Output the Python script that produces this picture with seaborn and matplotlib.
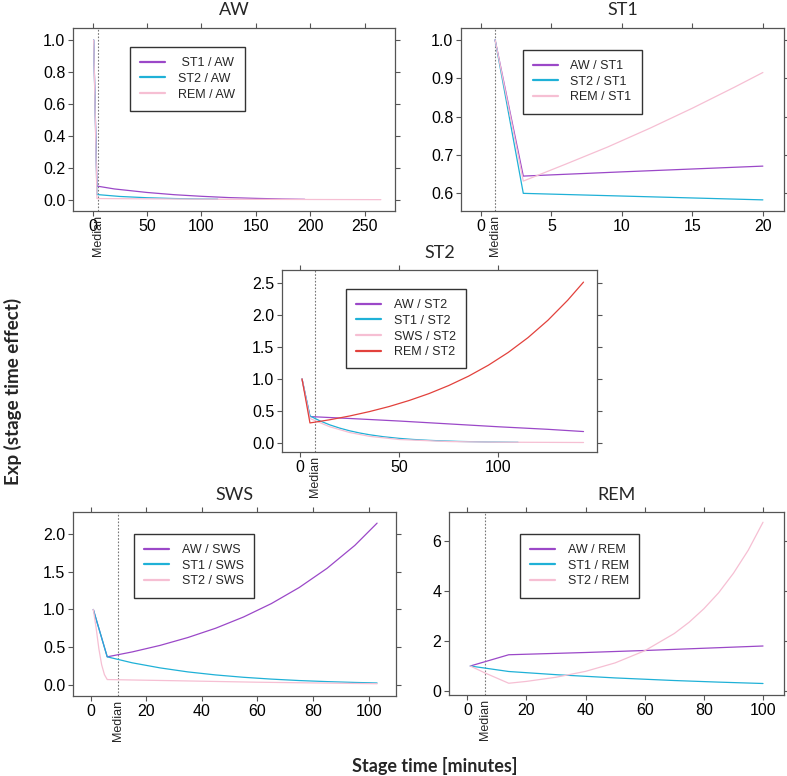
import matplotlib
matplotlib.use("Agg")
import matplotlib.pyplot as plt
from matplotlib.lines import Line2D
import numpy as np
import pandas as pd
import seaborn as sns

# colours of the four comparison stages
PURPLE = "#9b48c8"
CYAN = "#1fb1d7"
PINK = "#f6bfd3"
RED = "#e2413c"

# --- AW panel ---
aw_st1_x = [1, 4, 20, 50, 75, 100, 125, 150, 175, 195]
aw_st1_y = [1.0, 0.086, 0.068, 0.046, 0.032, 0.022, 0.014, 0.009, 0.005, 0.003]
aw_st2_x = [1, 4, 25, 50, 75, 100, 115]
aw_st2_y = [1.0, 0.033, 0.021, 0.013, 0.008, 0.005, 0.004]
aw_rem_x = [1, 4, 50, 100, 150, 200, 265]
aw_rem_y = [1.0, 0.008, 0.006, 0.004, 0.003, 0.002, 0.001]

# --- ST1 panel ---
st1_aw_x = [1, 3, 10, 20]
st1_aw_y = [1.0, 0.645, 0.656, 0.671]
st1_st2_x = [1, 3, 10, 20]
st1_st2_y = [1.0, 0.600, 0.593, 0.583]
st1_rem_x = [1, 3, 6, 9, 12, 15, 18, 20]
st1_rem_y = [1.0, 0.632, 0.676, 0.721, 0.770, 0.822, 0.877, 0.915]

# --- ST2 panel ---
st2_aw_x = [1, 5, 25, 50, 75, 100, 125, 143]
st2_aw_y = [1.0, 0.41, 0.38, 0.34, 0.295, 0.25, 0.21, 0.175]
st2_st1_x = [1, 5, 10, 15, 20, 25, 30, 35, 42, 50, 57, 65, 72, 80, 95, 110]
st2_st1_y = [1.0, 0.42, 0.343, 0.28, 0.229, 0.187, 0.153, 0.125, 0.094, 0.068,
             0.051, 0.037, 0.028, 0.02, 0.011, 0.006]
st2_sws_x = [1, 5, 15, 25, 35, 50, 75, 100, 143]
st2_sws_y = [1.0, 0.38, 0.25, 0.16, 0.10, 0.05, 0.018, 0.008, 0.003]
st2_rem_x = [1, 5, 15, 25, 35, 45, 55, 65, 75, 85, 95, 105, 115, 125, 135, 143]
st2_rem_y = [1.0, 0.31, 0.36, 0.419, 0.488, 0.568, 0.662, 0.77, 0.897, 1.044,
             1.216, 1.416, 1.649, 1.92, 2.235, 2.52]

# --- SWS panel ---
sws_aw_x = [1, 6, 15, 25, 35, 45, 55, 65, 75, 85, 95, 103]
sws_aw_y = [1.0, 0.375, 0.44, 0.526, 0.63, 0.753, 0.901, 1.078, 1.29, 1.543,
            1.846, 2.14]
sws_st1_x = [1, 6, 15, 25, 35, 45, 55, 65, 75, 85, 95, 103]
sws_st1_y = [1.0, 0.375, 0.296, 0.229, 0.176, 0.136, 0.105, 0.081, 0.062, 0.048,
             0.037, 0.03]
sws_st2_x = [1, 2, 3, 4, 5, 6, 30, 60, 103]
sws_st2_y = [1.0, 0.76, 0.48, 0.27, 0.14, 0.075, 0.06, 0.04, 0.02]

# --- REM panel ---
rem_aw_x = [1, 14, 40, 60, 80, 100]
rem_aw_y = [1.0, 1.45, 1.54, 1.62, 1.71, 1.80]
rem_st1_x = [1, 14, 30, 50, 70, 85, 100]
rem_st1_y = [1.0, 0.78, 0.653, 0.523, 0.419, 0.355, 0.30]
rem_st2_x = [1, 6, 14, 20, 30, 40, 50, 60, 70, 75, 80, 85, 90, 95, 100]
rem_st2_y = [1.0, 0.72, 0.31, 0.384, 0.55, 0.786, 1.125, 1.61, 2.30, 2.75, 3.29,
             3.93, 4.71, 5.63, 6.75]

# panel name, axes box in pixels (left, top, right, bottom), limits, ticks, median, curves
panels = [
    ("AW", (73, 28, 395, 211), (-18, 278), (-0.07, 1.075),
     [0, 50, 100, 150, 200, 250], [0.0, 0.2, 0.4, 0.6, 0.8, 1.0], "{:.1f}", 5,
     [(" ST1 / AW", aw_st1_x, aw_st1_y, PURPLE),
      ("ST2 / AW", aw_st2_x, aw_st2_y, CYAN),
      ("REM / AW", aw_rem_x, aw_rem_y, PINK)], (130, 47)),
    ("ST1", (461, 28, 784, 211), (-1.42, 21.5), (0.554, 1.031),
     [0, 5, 10, 15, 20], [0.6, 0.7, 0.8, 0.9, 1.0], "{:.1f}", 1,
     [("AW / ST1", st1_aw_x, st1_aw_y, PURPLE),
      ("ST2 / ST1", st1_st2_x, st1_st2_y, CYAN),
      ("REM / ST1", st1_rem_x, st1_rem_y, PINK)], (523, 50)),
    ("ST2", (282, 270, 597, 452), (-9.1, 149.8), (-0.146, 2.71),
     [0, 50, 100], [0.0, 0.5, 1.0, 1.5, 2.0, 2.5], "{:.1f}", 7.5,
     [("AW / ST2", st2_aw_x, st2_aw_y, PURPLE),
      ("ST1 / ST2", st2_st1_x, st2_st1_y, CYAN),
      ("SWS / ST2", st2_sws_x, st2_sws_y, PINK),
      ("REM / ST2", st2_rem_x, st2_rem_y, RED)], (346, 289)),
    ("SWS", (73, 512, 396, 696), (-6.3, 109.8), (-0.142, 2.287),
     [0, 20, 40, 60, 80, 100], [0.0, 0.5, 1.0, 1.5, 2.0], "{:.1f}", 10,
     [("AW / SWS", sws_aw_x, sws_aw_y, PURPLE),
      ("ST1 / SWS", sws_st1_x, sws_st1_y, CYAN),
      ("ST2 / SWS", sws_st2_x, sws_st2_y, PINK)], (134, 534)),
    ("REM", (449, 512, 784, 695), (-6.2, 107.1), (-0.16, 7.16),
     [0, 20, 40, 60, 80, 100], [0, 2, 4, 6], "{:.0f}", 6,
     [("AW / REM", rem_aw_x, rem_aw_y, PURPLE),
      ("ST1 / REM", rem_st1_x, rem_st1_y, CYAN),
      ("ST2 / REM", rem_st2_x, rem_st2_y, PINK)], (520, 534)),
]

sns.set_style("ticks")
plt.rcParams["font.family"] = ["Liberation Sans", "DejaVu Sans"]
plt.rcParams["axes.edgecolor"] = "#555555"
plt.rcParams["xtick.color"] = "#555555"
plt.rcParams["ytick.color"] = "#555555"
plt.rcParams["xtick.labelcolor"] = "black"
plt.rcParams["ytick.labelcolor"] = "black"

W, H = 787, 776
fig = plt.figure(figsize=(W / 100, H / 100), dpi=100)

for name, box, xlim, ylim, xt, yt, fmt, med, curves, legpos in panels:
    l, t, r, b = box
    ax = fig.add_axes([l / W, 1 - b / H, (r - l) / W, (b - t) / H])
    rows = []
    for lab, xs, ys, col in curves:
        rows.append(pd.DataFrame({"x": xs, "y": ys, "series": lab}))
    df = pd.concat(rows, ignore_index=True)
    pal = {lab: col for lab, xs, ys, col in curves}
    sns.lineplot(data=df, x="x", y="y", hue="series", palette=pal,
                 hue_order=[c[0] for c in curves], estimator=None, sort=False,
                 lw=0.9, legend=False, ax=ax)
    ax.axvline(med, color="#777777", lw=0.8, ls=(0, (1.5, 1.5)), zorder=0)
    ax.set_xlim(xlim)
    ax.set_ylim(ylim)
    ax.set_xticks(xt)
    ax.set_yticks(yt)
    ax.set_xticklabels([str(v) for v in xt])
    ax.set_yticklabels([fmt.format(v) for v in yt])
    ax.tick_params(axis="both", which="both", direction="out", length=3.5, width=0.8,
                   labelsize=11.5, top=True, right=True, pad=2)
    for sp in ax.spines.values():
        sp.set_visible(True)
        sp.set_linewidth(0.9)
    ax.set_xlabel("")
    ax.set_ylabel("")
    ax.set_title(name, fontsize=13, family="Lato", pad=9)
    ax.annotate("Median", xy=(med, 0), xycoords=("data", "axes fraction"),
                xytext=(0, -3), textcoords="offset points", rotation=90,
                ha="center", va="top", fontsize=9)
    handles = [Line2D([], [], color=c[3], lw=1.6) for c in curves]
    leg = ax.legend(handles, [c[0] for c in curves], loc="upper left",
                    bbox_to_anchor=(legpos[0] / W, 1 - legpos[1] / H),
                    bbox_transform=fig.transFigure, borderaxespad=0,
                    fontsize=9, frameon=True, fancybox=False, framealpha=1,
                    edgecolor="#333333", borderpad=0.8, handlelength=2.0,
                    handletextpad=1.0, labelspacing=0.3)
    leg.get_frame().set_linewidth(1.0)

fig.text(13 / W, 1 - 391 / H, "Exp (stage time effect)", rotation=90, ha="center",
         va="center", fontsize=13.5, fontweight="bold", family="Lato")
fig.text(435 / W, 1 - 772 / H, "Stage time [minutes]", ha="center", va="baseline",
         fontsize=13, fontweight="bold", family="Lato")

fig.savefig("out.png", dpi=100)
